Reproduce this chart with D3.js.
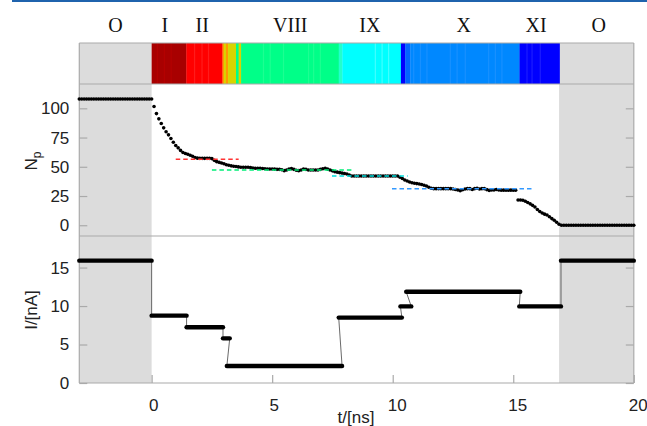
<!DOCTYPE html>
<meta charset="utf-8">
<style>
  body { margin: 0; background: #fff; }
  svg { display: block; font-family: "Liberation Sans", Arial, sans-serif; }
</style>
<svg width="647" height="426"></svg>
<script src="https://d3js.org/d3.v7.min.js"></script>
<script>

// number of particles, sampled every 0.1 ns from t = -3
var npStart = -3,
    npStep = 0.1;
var npValues = [
  108, 108, 108, 108, 108, 108, 108, 108, 108, 108,
  108, 108, 108, 108, 108, 108, 108, 108, 108, 108,
  108, 108, 108, 108, 108, 108, 108, 108, 108, 108,
  108, 101.5, 95.5, 91, 87, 83.3, 80, 77.3, 74.2, 71,
  68.2, 66.2, 64, 62.2, 61.3, 60.7, 59.8, 59, 58, 57.4,
  57.2, 57.2, 57.2, 57.2, 57.2, 57, 55.5, 54.4, 53.8, 53.2,
  52.6, 51.7, 51.3, 50.8, 50.4, 50.2, 49.9, 49.6, 49.6, 49.6,
  49.6, 49.4, 49.0, 48.7, 48.7, 48.7, 48.5, 48.3, 48.1, 48.1,
  48.1, 48, 47.8, 47.8, 47.5, 46.7, 47.2, 48, 48.4, 47.8,
  47, 46.7, 47.3, 48.1, 47.8, 47.3, 47.3, 47.3, 47.3, 47.3,
  47.8, 48.3, 48.7, 48, 47.3, 46.5, 45.8, 45.4, 45, 44.6,
  44.2, 43.8, 43, 42.1, 42.1, 42.1, 42.1, 42.1, 42.1, 42.1,
  42.1, 42.1, 42.1, 42.1, 42.1, 42.1, 42.1, 42.1, 42.1, 42.1,
  42.1, 42.1, 42.1, 41, 40, 38.7, 37.8, 37, 36.4, 35.9,
  35.6, 35.3, 34.8, 34.2, 33.6, 32.5, 31.6, 31.3, 31.3, 31.3,
  31.3, 31.3, 31.3, 31.3, 31.3, 31, 30.6, 30.2, 29.6, 30.4,
  31, 31.3, 31.3, 30.6, 31.3, 31.6, 31, 31.3, 31.3, 30.5,
  29.8, 30.2, 30.2, 30.6, 30.2, 30, 30, 30, 30, 30,
  30, 30, 21.6, 21.6, 21.4, 20.5, 19.5, 18.3, 17, 15.6,
  13.5, 11.8, 10.5, 9.5, 8.8, 7.3, 5.7, 4.3, 2.5, 0.8,
  0, 0, 0, 0, 0, 0, 0, 0, 0, 0,
  0, 0, 0, 0, 0, 0, 0, 0, 0, 0,
  0, 0, 0, 0, 0, 0, 0, 0, 0, 0,
  0
];

// current steps
var currentStart = [-3, 0, 1.45, 2.96, 3.12, 7.76, 10.32, 10.56, 15.25, 16.98];
var currentEnd   = [0, 1.45, 2.96, 3.24, 7.9, 10.38, 10.77, 15.29, 16.98, 20];
var currentValue = [15.9, 8.75, 7.25, 5.8, 2.2, 8.5, 9.95, 11.85, 9.95, 15.9];

// plateau fits (dashed)
var fitLevel = [56.4, 47.3, 42.1, 31.3];
var fitStart = [1.0, 2.5, 7.48, 9.97];
var fitEnd   = [3.61, 8.31, 10.62, 15.82];
var fitColor = ["#ff3333", "#00ee77", "#00dddd", "#3399ff"];

// state colour band
var bandStart = [0, 1.44, 2.94, 3.0, 3.08, 3.17, 3.5, 3.61, 3.71, 7.76, 7.91, 10.34, 10.52, 10.73, 15.26];
var bandEnd   = [1.44, 2.94, 3.0, 3.08, 3.17, 3.5, 3.61, 3.71, 7.76, 7.91, 10.34, 10.52, 10.73, 15.26, 16.92];
var bandColor = ["#a80000", "#ff0000", "#ff9900", "#d8d400", "#ff9900", "#d8d400", "#00ff88", "#d8d400",
                 "#00ff88", "#22ffcc", "#00ffff", "#0000ff", "#0066ff", "#0088ff", "#0000ff"];
var stripeT = [0.24, 0.53, 0.81, 1.78, 2.09, 2.36, 4.64, 4.92, 5.47, 6.51, 6.72, 7.0,
               9.28, 9.56, 9.83, 10.87, 11.15, 11.42, 12.39, 12.67, 13.01, 13.98, 14.26, 14.53,
               15.57, 15.78, 16.12];
var stripeColor = ["#b40000", "#b40000", "#b40000", "#ff1c1c", "#ff1c1c", "#ff1c1c",
                   "#1cff92", "#1cff92", "#1cff92", "#1cff92", "#1cff92", "#1cff92",
                   "#40ffff", "#40ffff", "#40ffff", "#1890ff", "#1890ff", "#1890ff", "#1890ff", "#1890ff",
                   "#1890ff", "#1890ff", "#1890ff", "#1890ff", "#1c1cff", "#1c1cff", "#1c1cff"];

var stateLabels = ["O", "I", "II", "VIII", "IX", "X", "XI", "O"];
var stateT = [-1.5, 0.55, 2.1, 5.75, 9.05, 12.95, 15.95, 18.55];

var shadeStart = [-3, 16.9],
    shadeEnd = [0, 20];

var npTicks = [0, 25, 50, 75, 100],
    currentTicks = [0, 5, 10, 15],
    timeTicks = [0, 5, 10, 15, 20];

var svg = d3.select("svg"),
    left = 79.3,
    right = 633.8,
    bandTop = 43,
    bandBottom = 84,
    midY = 236,
    bottom = 383;

var x = d3.scaleLinear().domain([-3, 20]).range([left, right]);
var yN = d3.scaleLinear().domain([-9.2, 120.8]).range([midY, bandBottom]);
var yI = d3.scaleLinear().domain([0, 19.1]).range([bottom, midY]);

svg.append("rect")
    .attr("x", 12).attr("y", 0)
    .attr("width", 635).attr("height", 2)
    .attr("fill", "#1f63ad");

// grey shading outside the driven interval
svg.append("g").selectAll("rect")
  .data(shadeStart)
  .enter().append("rect")
    .attr("x", function(d) { return x(d); })
    .attr("y", bandTop)
    .attr("width", function(d, i) { return x(shadeEnd[i]) - x(d); })
    .attr("height", bottom - bandTop)
    .attr("fill", "#dcdcdc");

svg.append("g").selectAll("rect")
  .data(bandStart)
  .enter().append("rect")
    .attr("x", function(d) { return x(d); })
    .attr("y", bandTop)
    .attr("width", function(d, i) { return x(bandEnd[i]) - x(d) + 0.3; })
    .attr("height", bandBottom - bandTop)
    .attr("fill", function(d, i) { return bandColor[i]; });

svg.append("g").selectAll("rect")
  .data(stripeT)
  .enter().append("rect")
    .attr("x", function(d) { return x(d) - 0.6; })
    .attr("y", bandTop)
    .attr("width", 1.2)
    .attr("height", bandBottom - bandTop)
    .attr("fill", function(d, i) { return stripeColor[i]; });

svg.append("g")
    .attr("font-family", "'Liberation Serif', 'Times New Roman', serif")
    .attr("font-size", 20)
    .attr("fill", "#111")
    .attr("text-anchor", "middle")
  .selectAll("text")
  .data(stateLabels)
  .enter().append("text")
    .attr("x", function(d, i) { return x(stateT[i]); })
    .attr("y", 32)
    .text(function(d) { return d; });

// frame
var frame = svg.append("g").attr("stroke", "#aaa").attr("stroke-width", 1.2);
[bandTop, bandBottom, midY, bottom].forEach(function(yy) {
  frame.append("line").attr("x1", left).attr("x2", right).attr("y1", yy).attr("y2", yy);
});
[left, right].forEach(function(xx) {
  frame.append("line").attr("x1", xx).attr("x2", xx).attr("y1", bandTop).attr("y2", bottom);
});

function styleAxis(g) {
  g.select(".domain").remove();
  g.selectAll(".tick line").attr("stroke", "#aaa").attr("stroke-width", 1.2);
  g.selectAll(".tick text").attr("font-size", 17).attr("fill", "#222");
  g.attr("font-family", null).attr("font-size", null);
}

svg.append("g")
    .attr("transform", "translate(" + left + ",0)")
    .call(d3.axisLeft(yN).tickValues(npTicks).tickSize(-8).tickPadding(10))
    .call(styleAxis);
svg.append("g")
    .attr("transform", "translate(" + right + ",0)")
    .call(d3.axisRight(yN).tickValues(npTicks).tickSize(-8).tickFormat(""))
    .call(styleAxis);
svg.append("g")
    .attr("transform", "translate(" + left + ",0)")
    .call(d3.axisLeft(yI).tickValues(currentTicks).tickSize(-8).tickPadding(10))
    .call(styleAxis);
svg.append("g")
    .attr("transform", "translate(" + right + ",0)")
    .call(d3.axisRight(yI).tickValues(currentTicks).tickSize(-8).tickFormat(""))
    .call(styleAxis);
svg.append("g")
    .attr("transform", "translate(0," + bottom + ")")
    .call(d3.axisBottom(x).tickValues(timeTicks).tickSize(-8).tickPadding(16))
    .call(styleAxis)
    .selectAll(".tick text")
    .attr("dx", function(d) { return d >= 10 ? 4 : 1.5; });

// axis titles
var np = svg.append("text")
    .attr("transform", "translate(37,161) rotate(-90)")
    .attr("text-anchor", "middle")
    .attr("font-size", 17)
    .attr("fill", "#222");
np.append("tspan").text("N");
np.append("tspan").attr("dy", "0.35em").attr("font-size", 12).text("p");

svg.append("text")
    .attr("transform", "translate(37,310) rotate(-90)")
    .attr("text-anchor", "middle")
    .attr("font-size", 17)
    .attr("fill", "#222")
    .text("I/[nA]");

svg.append("text")
    .attr("x", 356)
    .attr("y", 423)
    .attr("text-anchor", "middle")
    .attr("font-size", 17)
    .attr("fill", "#222")
    .text("t/[ns]");

// Np dots
svg.append("g").selectAll("circle")
  .data(npValues)
  .enter().append("circle")
    .attr("cx", function(d, i) { return x(npStart + i * npStep); })
    .attr("cy", function(d) { return yN(d); })
    .attr("r", 1.8)
    .attr("fill", "#000");

svg.append("g").selectAll("line")
  .data(fitLevel)
  .enter().append("line")
    .attr("x1", function(d, i) { return x(fitStart[i]); })
    .attr("x2", function(d, i) { return x(fitEnd[i]); })
    .attr("y1", function(d) { return yN(d); })
    .attr("y2", function(d) { return yN(d); })
    .attr("stroke", function(d, i) { return fitColor[i]; })
    .attr("stroke-width", 1.5)
    .attr("stroke-dasharray", "4.5,3");

// current: thin connectors and thick plateaus
var stepPoints = [];
currentValue.forEach(function(v, i) {
  stepPoints.push([currentStart[i], v], [currentEnd[i], v]);
});
svg.append("path")
    .datum(stepPoints)
    .attr("fill", "none")
    .attr("stroke", "#444")
    .attr("stroke-width", 0.8)
    .attr("d", d3.line().x(function(d) { return x(d[0]); }).y(function(d) { return yI(d[1]); }));

svg.append("g").selectAll("line")
  .data(currentValue)
  .enter().append("line")
    .attr("x1", function(d, i) { return x(currentStart[i]); })
    .attr("x2", function(d, i) { return x(currentEnd[i]); })
    .attr("y1", function(d) { return yI(d); })
    .attr("y2", function(d) { return yI(d); })
    .attr("stroke", "#000")
    .attr("stroke-width", 4.4)
    .attr("stroke-linecap", "round");

</script>
